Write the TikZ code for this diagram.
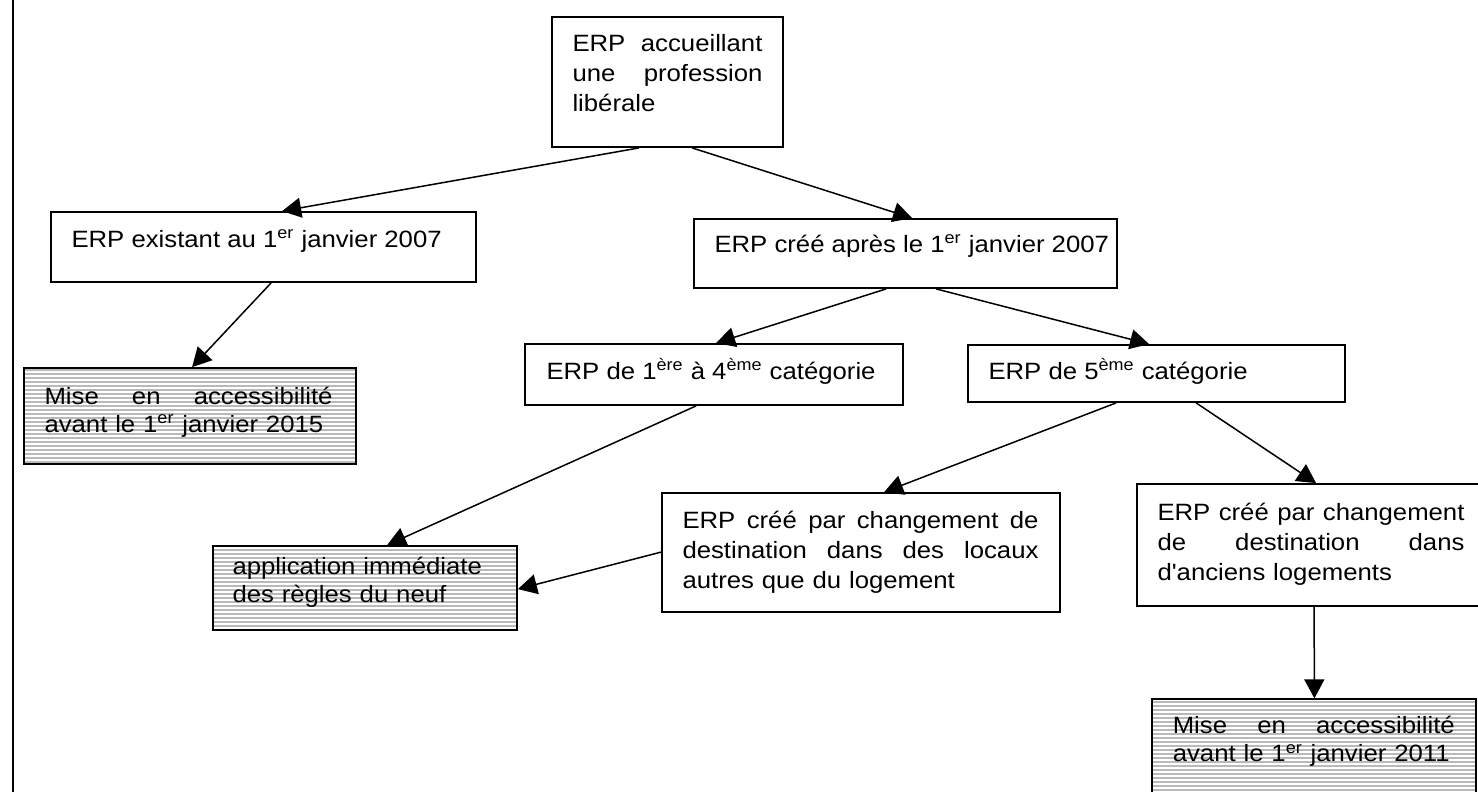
\documentclass[tikz,border=0pt]{standalone}
\usepackage{fontspec}
\setmainfont{Liberation Sans}[FakeStretch=1.09]
\newfontfamily\plainsans{Liberation Sans}[FakeStretch=1.09]
\usetikzlibrary{arrows.meta,calc,fit,patterns.meta}
\definecolor{shade}{RGB}{185,185,185}
\newcommand\jl[2]{\makebox[#1][s]{\spaceskip=0.3em plus 1fil\relax #2}}
\begin{document}
\begin{tikzpicture}[x=0.5pt,y=-0.5pt,
  box/.style={draw,line width=0.9pt,inner sep=0pt,fill=white},
  shaded/.style={draw,line width=0.9pt,inner sep=0pt,preaction={fill=shade},
    pattern={Lines[angle=0,distance=2pt,line width=0.6pt]},pattern color=white},
  txt/.style={anchor=north west,inner sep=0pt,align=left,
    font=\fontsize{11.8}{15}\selectfont},
  stxt/.style={txt,font=\fontsize{11.8}{14}\selectfont},
  arr/.style={line width=0.75pt,-{Triangle[length=9.5pt,width=10pt]}}]
\fill[white] (0,0) rectangle (1478,792);
\useasboundingbox (0,0) rectangle (1478,792);
\clip (0,0) rectangle (1478,792);
\draw[line width=1.1pt] (13,-5) -- (13,800);

% boxes
\node[box,fit={(552,17) (783,147)}] (A) {};
\node[box,fit={(51,212) (476,282)}] (B) {};
\node[box,fit={(694,219) (1117,288)}] (C) {};
\node[box,fit={(525,344) (903,405)}] (D) {};
\node[box,fit={(968,345) (1345,402)}] (E) {};
\node[box,fit={(662,493) (1060,612)}] (F) {};
\node[box,fit={(1137,484) (1486,606)}] (G) {};
\node[shaded,fit={(1152,699) (1476,806)}] (H) {};
\node[shaded,fit={(24,368) (356,464)}] (I) {};
\node[shaded,fit={(213,546) (517,630)}] (J) {};

% texts
\node[txt,text width=95pt] (At) at ($(A.north west)+(21,14.5)$)
  {\strut\jl{95pt}{ERP accueillant}\\\jl{95pt}{une profession}\\libérale};
\node[txt] (Bt) at ($(B.north west)+(21,15)$)
  {\strut ERP existant au 1\textsuperscript{er} janvier 2007};
\node[txt] (Ct) at ($(C.north west)+(21,13)$)
  {\strut ERP créé après le 1\textsuperscript{er} janvier 2007};
\node[txt] (Dt) at ($(D.north west)+(22,15)$)
  {\strut ERP de 1\textsuperscript{ère} à 4\textsuperscript{ème} catégorie};
\node[txt] (Et) at ($(E.north west)+(21,14)$)
  {\strut ERP de 5\textsuperscript{ème} catégorie};
\node[txt,text width=178pt] (Ft) at ($(F.north west)+(21,15)$)
  {\strut\jl{178pt}{ERP créé par changement de}\\\jl{178pt}{destination dans des locaux}\\autres que du logement};
\node[txt,text width=153.5pt] (Gt) at ($(G.north west)+(21,15.5)$)
  {\strut\jl{153.5pt}{ERP créé par changement}\\\jl{153.5pt}{de destination dans}\\d{\plainsans'}anciens logements};
\node[stxt,text width=141pt] (Ht) at ($(H.north west)+(21,15.5)$)
  {\strut\jl{141pt}{Mise en accessibilité}\\avant le 1\textsuperscript{er} janvier 2011};
\node[stxt,text width=144pt] (It) at ($(I.north west)+(21,17)$)
  {\strut\jl{144pt}{Mise en accessibilité}\\avant le 1\textsuperscript{er} janvier 2015};
\node[stxt,text width=132pt] (Jt) at ($(J.north west)+(20,9)$)
  {\strut application immédiate\\des règles du neuf};

% connectors
\draw[arr] ($(A.south west)+(88,0)$) -- ($(B.north west)+(232,0)$);
\draw[arr] ($(A.south west)+(141,0)$) -- ($(C.north west)+(219,0)$);
\draw[arr] ($(B.south west)+(221,0)$) -- ($(I.north west)+(169,0)$);
\draw[arr] ($(C.south west)+(193,0)$) -- ($(D.north west)+(192,0)$);
\draw[arr] ($(C.south west)+(243,0)$) -- ($(E.north west)+(182,0)$);
\draw[arr] ($(D.south west)+(172,0)$) -- ($(J.north west)+(175,0)$);
\draw[arr] ($(E.south west)+(149,0)$) -- ($(F.north west)+(223,0)$);
\draw[arr] ($(E.south west)+(229,0)$) -- ($(G.north west)+(180,0)$);
\draw[arr] ($(F.north west)+(0,60)$) -- ($(J.north east)+(0,44)$);
\draw[arr] ($(G.south west)+(178,0)$) -- ($(H.north west)+(163,0)$);
\end{tikzpicture}
\end{document}
